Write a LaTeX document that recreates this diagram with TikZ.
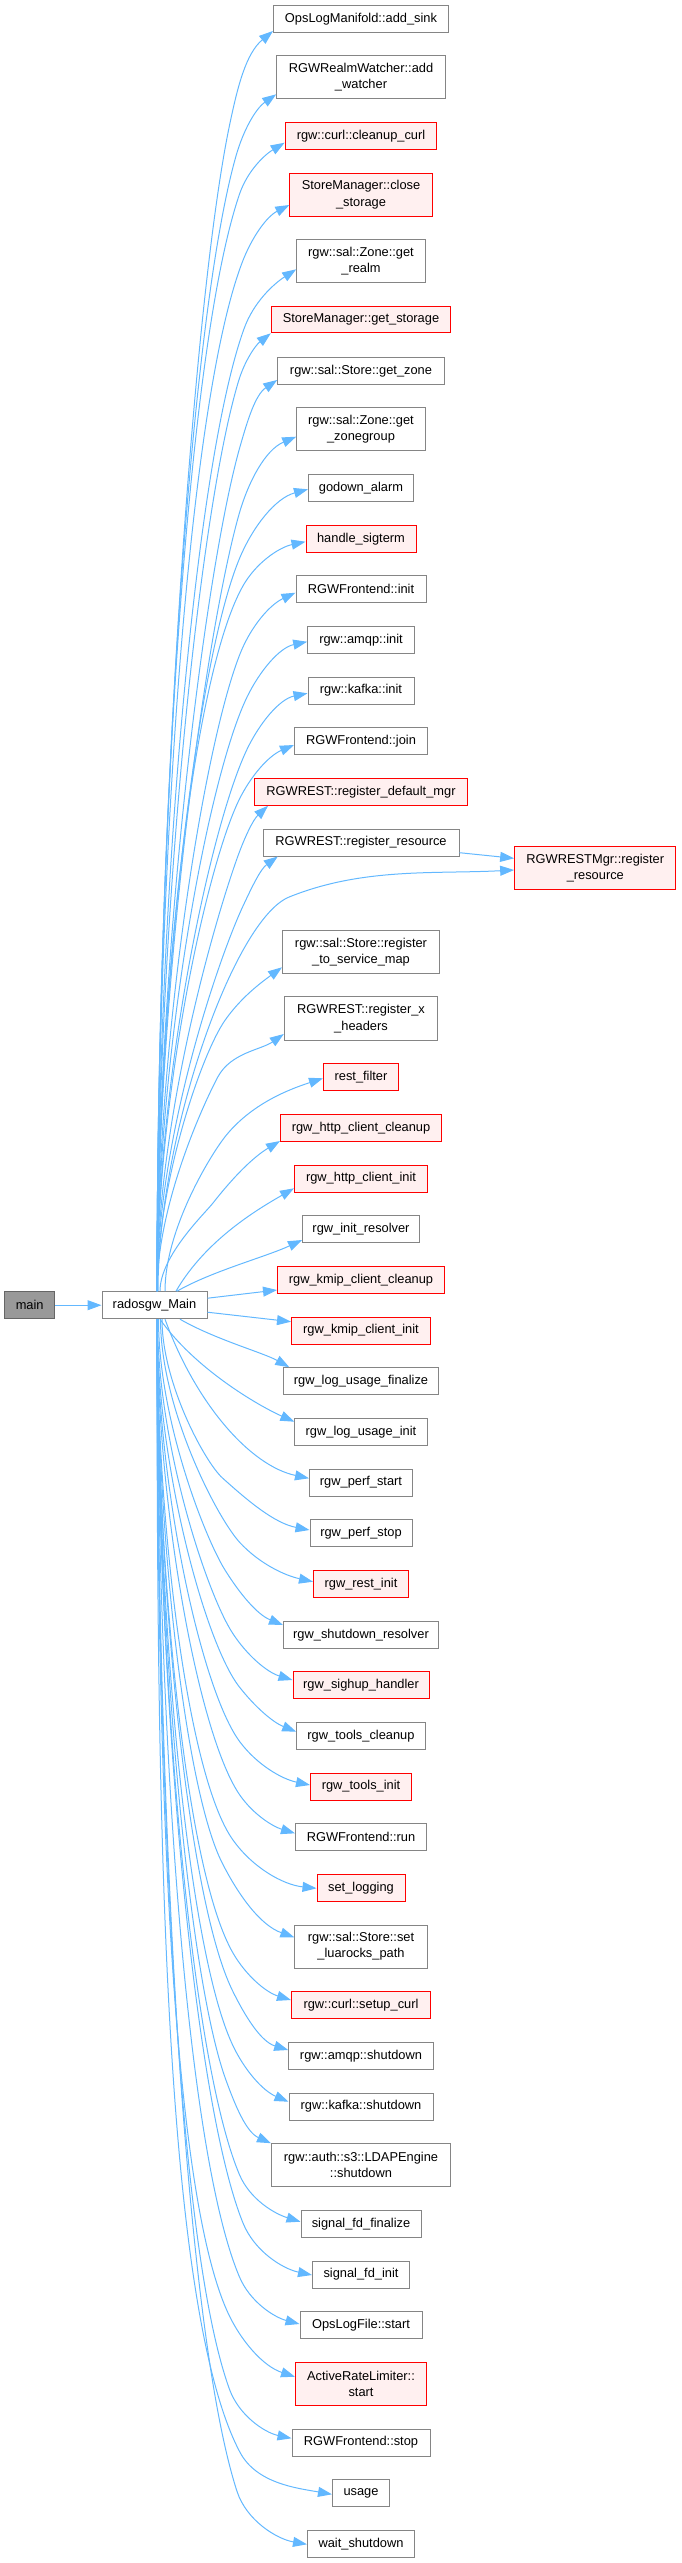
\documentclass[tikz,border=0pt]{standalone}
\usepackage{fontspec}
\setmainfont{Liberation Sans}
\usetikzlibrary{arrows.meta,calc}
\definecolor{gborder}{HTML}{858585}
\definecolor{rfill}{HTML}{FFF0F0}
\definecolor{ecol}{HTML}{63B8FF}
\definecolor{mainfill}{HTML}{999999}
\definecolor{mainborder}{HTML}{666666}
\newcommand\nodefont{\fontsize{12.84}{16.3}\selectfont}
\tikzset{
  gnode/.style={draw=gborder, fill=white, line width=1pt, inner sep=0pt, align=center, font=\nodefont},
  rnode/.style={gnode, draw=red, fill=rfill},
  mnode/.style={gnode, draw=mainborder, fill=mainfill},
  callarrow/.style={draw=ecol, line width=1pt, -{Triangle[length=14pt,width=10pt]}}
}
\newcommand\cn[6]{\node[#5, minimum width=#3pt, minimum height=#4pt] (#1) at (361,-#2) {#6};}
% #1 anchor of rm, #2 x shift, #3 out angle, #4 end coordinate, #5 arrival angle,
% #6 M dx, #7 M dy, #8 tangent angle at M
\newcommand\cedge[8]{%
  \draw[callarrow] let \p1=($(rm.#1)+(#2,0)$), \p2=(#4), \p3=($(\p2)+(-#6,#7)$),
     \n1={abs(\y3-\y1)}, \n2={veclen(\x2-\x3,\y2-\y3)} in
     (\p1) .. controls +(#3:{0.4*\n1}) and +({#8+180}:{0.15*\n1}) .. (\p3)
     .. controls +(#8:{0.35*\n2}) and +({#5+180}:{0.35*\n2}) .. (\p2);}
\begin{document}
\begin{tikzpicture}[x=1pt,y=1pt]
\useasboundingbox (0,0) rectangle (681,-2563);

\node[mnode, minimum width=50pt, minimum height=27pt] (main) at (29.7,-1305.2) {main};
\node[gnode, minimum width=105pt, minimum height=27pt] (rm) at (154.5,-1305.2) {radosgw\_Main};

\cn{n1}{18.7}{175}{27}{gnode}{OpsLogManifold::add\_sink}
\cn{n2}{77.3}{168.6}{42.7}{gnode}{RGWRealmWatcher::add\\\_watcher}
\cn{n3}{136}{151.7}{26.7}{rnode}{rgw::curl::cleanup\_curl}
\cn{n4}{194.7}{142.3}{43.3}{rnode}{StoreManager::close\\\_storage}
\cn{n5}{261.2}{128.6}{43}{gnode}{rgw::sal::Zone::get\\\_realm}
\cn{n6}{319.8}{179.4}{26.3}{rnode}{StoreManager::get\_storage}
\cn{n7}{370.7}{166.6}{26.7}{gnode}{rgw::sal::Store::get\_zone}
\cn{n8}{429.2}{128.6}{43}{gnode}{rgw::sal::Zone::get\\\_zonegroup}
\cn{n9}{487.7}{105}{26.7}{gnode}{godown\_alarm}
\cn{n10}{538.8}{110}{27}{rnode}{handle\_sigterm}
\cn{n11}{589.2}{130}{27}{gnode}{RGWFrontend::init}
\cn{n12}{640}{106.6}{26.6}{gnode}{rgw::amqp::init}
\cn{n13}{690.5}{106}{27}{gnode}{rgw::kafka::init}
\cn{n14}{741}{133}{26.6}{gnode}{RGWFrontend::join}
\cn{n15}{792}{213}{26.6}{rnode}{RGWREST::register\_default\_mgr}
\cn{n16}{842.5}{196}{27}{gnode}{RGWREST::register\_resource}
\node[rnode, minimum width=161.3pt, minimum height=43pt] (mgr) at (595.3,-867.8) {RGWRESTMgr::register\\\_resource};
\cn{n18}{952}{157}{42.6}{gnode}{rgw::sal::Store::register\\\_to\_service\_map}
\cn{n19}{1018.5}{153.4}{43.6}{gnode}{RGWREST::register\_x\\\_headers}
\cn{n20}{1077.2}{75}{27}{rnode}{rest\_filter}
\cn{n21}{1128}{161}{26.6}{rnode}{rgw\_http\_client\_cleanup}
\cn{n22}{1178.5}{133}{27}{rnode}{rgw\_http\_client\_init}
\cn{n23}{1229.3}{117}{26.7}{gnode}{rgw\_init\_resolver}
\cn{n24}{1280}{167}{26.6}{rnode}{rgw\_kmip\_client\_cleanup}
\cn{n25}{1330.5}{139}{27}{rnode}{rgw\_kmip\_client\_init}
\cn{n26}{1381.3}{155}{27.3}{gnode}{rgw\_log\_usage\_finalize}
\cn{n27}{1431.8}{132.3}{27}{gnode}{rgw\_log\_usage\_init}
\cn{n28}{1482.5}{103}{27}{gnode}{rgw\_perf\_start}
\cn{n29}{1533.2}{102}{27}{gnode}{rgw\_perf\_stop}
\cn{n30}{1584}{95}{26.6}{rnode}{rgw\_rest\_init}
\cn{n31}{1634.7}{155}{27.3}{gnode}{rgw\_shutdown\_resolver}
\cn{n32}{1685.2}{136}{27}{rnode}{rgw\_sighup\_handler}
\cn{n33}{1736}{128.6}{26.6}{gnode}{rgw\_tools\_cleanup}
\cn{n34}{1786.5}{101}{27}{rnode}{rgw\_tools\_init}
\cn{n35}{1837.2}{131}{27}{gnode}{RGWFrontend::run}
\cn{n36}{1887.8}{88}{27}{rnode}{set\_logging}
\cn{n37}{1946.5}{132.3}{43}{gnode}{rgw::sal::Store::set\\\_luarocks\_path}
\cn{n38}{2005.2}{139}{27}{rnode}{rgw::curl::setup\_curl}
\cn{n39}{2055.8}{144.6}{27}{gnode}{rgw::amqp::shutdown}
\cn{n40}{2106.5}{144}{27}{gnode}{rgw::kafka::shutdown}
\cn{n41}{2165.2}{179}{43}{gnode}{rgw::auth::s3::LDAPEngine\\::shutdown}
\cn{n42}{2224}{120}{27.4}{gnode}{signal\_fd\_finalize}
\cn{n43}{2274.5}{97}{27}{gnode}{signal\_fd\_init}
\cn{n44}{2325.2}{122}{27}{gnode}{OpsLogFile::start}
\cn{n45}{2383.8}{131}{43}{rnode}{ActiveRateLimiter::\\start}
\cn{n46}{2442.5}{138}{27}{gnode}{RGWFrontend::stop}
\cn{n47}{2493.2}{57}{27}{gnode}{usage}
\cn{n48}{2543.8}{107}{27}{gnode}{wait\_shutdown}

% main -> radosgw_Main
\draw[callarrow] (main) -- (rm);

% upward edges
\cedge{north}{2.5}{90}{$(n1.west)+(0,-12.3)$}{39.5}{43}{-92}{78}
\cedge{north}{2.5}{90}{$(n2.west)+(0,-17)$}{35}{40}{-61}{74}
\cedge{north}{2.5}{90}{$(n3.west)+(0,-6.7)$}{31}{45}{-51}{71}
\cedge{north}{2.5}{90}{$(n4.west)+(0,-10.3)$}{27}{47}{-57}{69}
\cedge{north}{2.5}{90}{$(n5.west)+(0,-8.1)$}{33}{52}{-59}{70}
\cedge{north}{2.5}{90}{$(n6.west)+(0,-13.5)$}{38}{32}{-47}{73}
\cedge{north}{2.5}{90}{$(n7.west)+(0,-9.3)$}{34}{37}{-66}{74}
\cedge{north}{2.5}{90}{$(n8.west)+(0,-7.5)$}{23}{57}{-77}{74}
\cedge{north}{2.5}{90}{$(n9.west)+(0,-1.6)$}{15}{68}{-68}{67}
\cedge{north}{2.5}{90}{$(n10.west)+(0,-2.9)$}{12}{63}{-45}{61}
\cedge{north}{2.5}{90}{$(n11.west)+(0,-3.5)$}{25}{55}{-60}{68}
\cedge{north}{2.5}{90}{$(n12.west)+(0,-1.7)$}{12}{60}{-55}{64}
\cedge{north}{2.5}{90}{$(n13.west)+(0,-2.8)$}{11.5}{60}{-55}{64}
\cedge{north}{2.5}{90}{$(n14.west)+(0,-4)$}{23}{55}{-55}{64}
\cedge{north}{2.5}{90}{$(n15.south west)+(14,0)$}{43}{30}{-50}{70}
\cedge{north}{2.5}{90}{$(n16.south west)+(15.3,0)$}{36}{35}{-50}{65}
\cedge{north}{3.5}{90}{$(mgr.west)+(0,-2.2)$}{3}{225}{-27}{22}
\draw[callarrow] ($(n16.east)+(0,-10.2)$) -- ($(mgr.west)+(0,9.5)$);
\cedge{north}{2.5}{90}{$(n18.west)+(0,-15.3)$}{36}{57}{-53}{55}
\cedge{north}{2.5}{90}{$(n19.west)+(0,-15.5)$}{35}{66}{-43}{62}
\cedge{north}{10.5}{90}{$(n20.west)+(0,-1.1)$}{18}{96}{-56}{50}
\cedge{north}{5.5}{90}{$(n21.west)+(0,-13)$}{31}{67}{-62}{52}
\draw[callarrow] ($(rm.north)+(21.5,0)$) .. controls +(60:60) and +(210:40) .. ($(n22.west)+(0,-9.8)$);
\draw[callarrow] ($(rm.north)+(22.5,0)$) .. controls +(30:40) and +(205:40) .. ($(n23.west)+(0,-10.7)$);
\draw[callarrow] ($(rm.east)+(0,7)$) -- ($(n24.west)+(0,-10)$);

% downward edges
\draw[callarrow] ($(rm.east)+(0,-7)$) -- ($(n25.west)+(0,8.8)$);
\draw[callarrow] ($(rm.south)+(25.5,0)$) .. controls +(-30:40) and +(151:30) .. ($(n26.north west)+(6.3,0)$);
\draw[callarrow] ($(rm.south)+(5.5,0)$) .. controls +(-55:60) and +(156:40) .. ($(n27.west)+(0,10.1)$);
\draw[callarrow] ($(rm.south)+(10.5,0)$) .. controls +(-70:90) and +(168:60) .. ($(n28.west)+(0,4.2)$);
\cedge{south}{7.5}{-90}{$(n29.west)+(0,3.2)$}{-11}{87}{52}{-42}
\cedge{south}{6}{-90}{$(n30.west)+(0,2.3)$}{-12.5}{73}{39}{-47}
\cedge{south}{4}{-90}{$(n31.west)+(0,9.7)$}{-22}{58}{55}{-58}
\cedge{south}{3}{-90}{$(n32.west)+(0,5.2)$}{-17}{60}{47}{-57}
\cedge{south}{2.5}{-90}{$(n33.west)+(0,4.3)$}{-22}{57}{45}{-52}
\cedge{south}{2.5}{-90}{$(n34.west)+(0,1.5)$}{-12}{70}{43}{-53}
\cedge{south}{2.5}{-90}{$(n35.west)+(0,3.9)$}{-17}{55}{38}{-55}
\cedge{south}{2.5}{-90}{$(n36.west)+(0,-0.5)$}{-6}{84}{49}{-55}
\cedge{south}{2.5}{-90}{$(n37.west)+(0,9.2)$}{-19.5}{72}{74}{-63}
\cedge{south}{2.5}{-90}{$(n38.west)+(0,5.2)$}{-17}{58}{47}{-60}
\cedge{south}{2.5}{-90}{$(n39.west)+(0,5.8)$}{-17}{56}{60}{-64}
\cedge{south}{2.5}{-90}{$(n40.west)+(0,4.8)$}{-23}{56}{57}{-65}
\cedge{south}{2.5}{-90}{$(n41.north west)$}{-24}{45}{63}{-70}
\cedge{south}{2.5}{-90}{$(n42.west)+(0,2.3)$}{-17}{61}{47}{-67}
\cedge{south}{2.5}{-90}{$(n43.west)+(0,-0.5)$}{-12}{69}{52}{-68}
\cedge{south}{2.5}{-90}{$(n44.west)+(0,1.2)$}{-15}{60}{47}{-67}
\cedge{south}{2.5}{-90}{$(n45.west)+(0,7.1)$}{-18}{68}{66}{-66}
\cedge{south}{2.5}{-90}{$(n46.west)+(0,4.2)$}{-12}{62}{49}{-70}
\cedge{south}{2.5}{-90}{$(n47.west)+(0,-1.1)$}{-10}{92}{42}{-62}
\cedge{south}{2.5}{-90}{$(n48.west)+(0,-0.5)$}{-10}{70}{53}{-72}
\end{tikzpicture}
\end{document}
